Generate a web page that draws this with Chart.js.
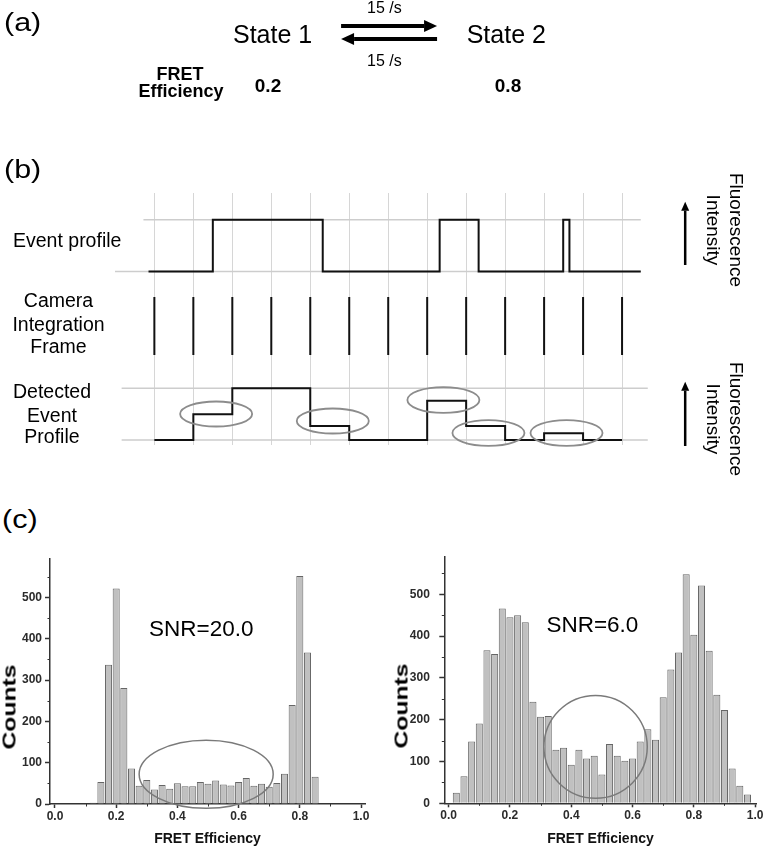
<!DOCTYPE html>
<html>
<head>
<meta charset="utf-8">
<title>Two-state FRET: camera binning and FRET histograms</title>
<script src="https://cdn.jsdelivr.net/npm/chart.js@4.4.1/dist/chart.umd.min.js"></script>
<style>
  body { margin: 0; background: #fff; }
  #page { position: relative; width: 765px; height: 850px; overflow: hidden;
          font-family: 'Liberation Sans', Arial, sans-serif; color: #000; }
  #page canvas { position: absolute; }
  .txt { position: absolute; white-space: nowrap; line-height: 1; }
  .rot { position: absolute; white-space: nowrap; text-align: center; }
</style>
</head>
<body>
<div id="page">
  <canvas id="scheme" width="765" height="110" style="left:0;top:0"></canvas>
  <canvas id="profiles" width="665" height="270" style="left:100px;top:185px"></canvas>
  <canvas id="histHigh" width="380" height="310" style="left:0;top:540px"></canvas>
  <canvas id="histLow" width="385" height="310" style="left:380px;top:540px"></canvas>
</div>
<script>
// ---- data ----

// (a) kinetic scheme: state FRET efficiencies, arrows drawn between them
const stateFret = [0.2, 0.8];
const rateArrows = [
  { from: 0.38, to: 0.623, level: 1 },   // State 1 -> State 2, 15 /s
  { from: 0.623, to: 0.38, level: 0 }    // State 2 -> State 1, 15 /s
];

// (b) time axis in camera frames
const frameTimes = [0, 1, 2, 3, 4, 5, 6, 7, 8, 9, 10, 11, 12];
const eventTimes = [-0.15, 1.5, 4.32, 7.32, 8.32, 10.49, 10.65, 12.48];
const eventLevels = [0, 1, 0, 1, 0, 1, 0, 0];
const detectedTimes = [0, 1, 2, 4, 5, 7, 8, 9, 10, 11, 12];
const detectedLevels = [0, 0.5, 1, 0.27, 0, 0.76, 0.27, 0, 0.13, 0, 0];

// (c) FRET histograms, bin centres (width 0.025)
const binsHigh = [0.125, 0.15, 0.175, 0.2, 0.225, 0.25, 0.275, 0.3, 0.325, 0.35,
  0.375, 0.4, 0.425, 0.45, 0.475, 0.5, 0.525, 0.55, 0.575, 0.6,
  0.625, 0.65, 0.675, 0.7, 0.725, 0.75, 0.775, 0.8, 0.825, 0.85];
const countsHigh = [3, 53, 337, 522, 281, 86, 44, 58, 35, 46,
  37, 50, 43, 43, 53, 49, 57, 47, 45, 53,
  63, 44, 49, 42, 51, 73, 240, 552, 367, 66];

const binsLow = [0.025, 0.05, 0.075, 0.1, 0.125, 0.15, 0.175, 0.2, 0.225, 0.25,
  0.275, 0.3, 0.325, 0.35, 0.375, 0.4, 0.425, 0.45, 0.475, 0.5,
  0.525, 0.55, 0.575, 0.6, 0.625, 0.65, 0.675, 0.7, 0.725, 0.75,
  0.775, 0.8, 0.825, 0.85, 0.875, 0.9, 0.925, 0.95, 0.975];
const countsLow = [25, 65, 148, 191, 366, 357, 466, 445, 450, 433,
  243, 207, 209, 128, 133, 92, 128, 107, 114, 69,
  142, 114, 102, 107, 148, 177, 152, 254, 320, 361,
  548, 403, 521, 365, 260, 223, 83, 42, 21];

const xTicks = [0, 0.2, 0.4, 0.6, 0.8, 1.0];
const xMinorTicks = [0.1, 0.3, 0.5, 0.7, 0.9];
const yTicks = [0, 100, 200, 300, 400, 500];
const yMinorTicks = [50, 150, 250, 350, 450, 550];

Chart.defaults.font.family = "'Liberation Sans', Arial, sans-serif";

const page = document.getElementById('page');

// ---- helpers ----

function drawArrow(ctx, x0, y0, x1, y1, w, headLen, headW) {
  const ang = Math.atan2(y1 - y0, x1 - x0);
  const bx = x1 - headLen * Math.cos(ang), by = y1 - headLen * Math.sin(ang);
  ctx.strokeStyle = '#000';
  ctx.fillStyle = '#000';
  ctx.lineWidth = w;
  ctx.beginPath();
  ctx.moveTo(x0, y0);
  ctx.lineTo(bx, by);
  ctx.stroke();
  ctx.beginPath();
  ctx.moveTo(x1, y1);
  ctx.lineTo(bx + headW / 2 * Math.sin(ang), by - headW / 2 * Math.cos(ang));
  ctx.lineTo(bx - headW / 2 * Math.sin(ang), by + headW / 2 * Math.cos(ang));
  ctx.closePath();
  ctx.fill();
}

// ellipses, arrows, text notes and minor ticks placed through the chart scales
function decor(spec) {
  return {
    id: 'decor',
    afterDatasetsDraw(chart) {
      const { ctx, chartArea, scales: { x, y } } = chart;
      ctx.save();
      (spec.ellipses || []).forEach(e => {
        const cx = x.getPixelForValue(e.x), cy = y.getPixelForValue(e.y);
        const rx = Math.abs(x.getPixelForValue(e.x + e.rx) - cx);
        const ry = Math.abs(y.getPixelForValue(e.y + e.ry) - cy);
        ctx.beginPath();
        ctx.ellipse(cx, cy, rx, ry, 0, 0, Math.PI * 2);
        ctx.lineWidth = spec.ellipseWidth || 1.5;
        ctx.strokeStyle = spec.ellipseColor || '#888';
        ctx.stroke();
      });
      (spec.arrows || []).forEach(a => {
        drawArrow(ctx, x.getPixelForValue(a.x0), y.getPixelForValue(a.y0),
          x.getPixelForValue(a.x1), y.getPixelForValue(a.y1), a.w, a.head, a.headW);
      });
      (spec.notes || []).forEach(n => {
        ctx.font = n.font;
        ctx.fillStyle = '#000';
        ctx.textAlign = 'center';
        ctx.textBaseline = 'middle';
        ctx.fillText(n.text, x.getPixelForValue(n.x), y.getPixelForValue(n.y));
      });
      if (spec.minor) {
        ctx.strokeStyle = '#333';
        ctx.lineWidth = 1;
        ctx.beginPath();
        xMinorTicks.forEach(v => {
          const px = Math.round(x.getPixelForValue(v)) + 0.5;
          ctx.moveTo(px, chartArea.bottom);
          ctx.lineTo(px, chartArea.bottom + 2.5);
        });
        yMinorTicks.forEach(v => {
          const py = Math.round(y.getPixelForValue(v)) + 0.5;
          ctx.moveTo(chartArea.left, py);
          ctx.lineTo(chartArea.left - 2.5, py);
        });
        ctx.stroke();
      }
      ctx.restore();
    }
  };
}

function addText(t, o) {
  const d = document.createElement('div');
  d.className = 'txt';
  d.textContent = t;
  d.style.fontSize = o.size + 'px';
  if (o.bold) d.style.fontWeight = 'bold';
  d.style.top = (o.base - 0.8465 * o.size) + 'px';
  if (o.center !== undefined) {
    d.style.left = (o.center - 300) + 'px';
    d.style.width = '600px';
    d.style.textAlign = 'center';
  } else {
    d.style.left = o.left + 'px';
  }
  if (o.stretch) {
    d.style.transformOrigin = '0 0';
    d.style.transform = 'scaleX(' + o.stretch + ')';
  }
  page.appendChild(d);
}

function addRotated(html, o) {
  const d = document.createElement('div');
  d.className = 'rot';
  d.innerHTML = html;
  d.style.fontSize = o.size + 'px';
  d.style.lineHeight = o.lh + 'px';
  if (o.bold) d.style.fontWeight = 'bold';
  d.style.left = o.cx + 'px';
  d.style.top = o.cy + 'px';
  d.style.transform = 'translate(-50%,-50%) rotate(' + o.angle + 'deg) scaleX(' + (o.stretch || 1) + ')';
  page.appendChild(d);
}

// ---- (a) scheme ----
new Chart(document.getElementById('scheme'), {
  type: 'scatter',
  data: { datasets: [] },
  options: {
    responsive: false,
    animation: false,
    events: [],
    layout: { padding: 0 },
    plugins: { legend: { display: false }, tooltip: { enabled: false } },
    scales: {
      x: { display: false, min: stateFret[0] - 0.6835, max: stateFret[1] + 0.6532 },
      y: { display: false, min: -5.46, max: 3 }
    }
  },
  plugins: [decor({
    arrows: rateArrows.map(r => ({ x0: r.from, y0: r.level, x1: r.to, y1: r.level, w: 4, head: 13, headW: 12 }))
  })]
});

// ---- (b) event profile / camera frames / detected profile ----
const eventOffset = 3.26;
const frameSpan = [1.644, 2.766];
const guide = (x0, x1, level) => ({
  data: [{ x: x0, y: level }, { x: x1, y: level }],
  borderColor: '#cdcdcd', borderWidth: 1.5, pointRadius: 0, order: 3
});

new Chart(document.getElementById('profiles'), {
  type: 'line',
  data: {
    datasets: [
      guide(-0.28, 12.48, eventOffset + 1),
      guide(-1.01, 12.48, eventOffset),
      guide(-0.84, 12.66, 1),
      guide(-0.84, 12.66, 0),
      ...frameTimes.map(k => ({
        data: [{ x: k, y: frameSpan[0] }, { x: k, y: frameSpan[1] }],
        borderColor: '#111', borderWidth: 2, pointRadius: 0, order: 2
      })),
      {
        data: eventTimes.map((t, i) => ({ x: t, y: eventOffset + eventLevels[i] })),
        stepped: true, borderColor: '#111', borderWidth: 2, pointRadius: 0, order: 1
      },
      {
        data: detectedTimes.map((t, i) => ({ x: t, y: detectedLevels[i] })),
        stepped: true, borderColor: '#111', borderWidth: 2, pointRadius: 0, order: 1
      }
    ]
  },
  options: {
    responsive: false,
    animation: false,
    events: [],
    layout: { padding: { left: 15, right: 65, top: 8, bottom: 10 } },
    plugins: { legend: { display: false }, tooltip: { enabled: false } },
    scales: {
      x: {
        type: 'linear', min: -1.01, max: 14.0,
        afterBuildTicks: s => { s.ticks = frameTimes.map(v => ({ value: v })); },
        ticks: { display: false },
        grid: { color: '#d6d6d6', lineWidth: 1, drawTicks: false },
        border: { display: false }
      },
      y: { display: false, min: -0.097, max: 4.778 }
    }
  },
  plugins: [decor({
    ellipseColor: '#8c8c8c',
    ellipseWidth: 1.8,
    ellipses: [
      { x: 1.585, y: 0.503, rx: 0.924, ry: 0.242 },
      { x: 4.578, y: 0.367, rx: 0.924, ry: 0.242 },
      { x: 7.416, y: 0.774, rx: 0.924, ry: 0.25 },
      { x: 8.572, y: 0.135, rx: 0.924, ry: 0.25 },
      { x: 10.575, y: 0.135, rx: 0.924, ry: 0.25 }
    ],
    arrows: [
      { x0: 13.62, y0: 3.385, x1: 13.62, y1: 4.61, w: 2.5, head: 9, headW: 8 },
      { x0: 13.62, y0: -0.116, x1: 13.62, y1: 1.128, w: 2.5, head: 9, headW: 8 }
    ]
  })]
});

// ---- (c) histograms ----
function histogram(id, bins, counts, cfg) {
  return new Chart(document.getElementById(id), {
    type: 'bar',
    data: {
      datasets: [{
        data: bins.map((b, i) => ({ x: b, y: counts[i] })),
        backgroundColor: '#c0c0c0',
        borderColor: '#666666',
        borderWidth: 1,
        barPercentage: 0.92,
        categoryPercentage: 1
      }]
    },
    options: {
      responsive: false,
      animation: false,
      events: [],
      layout: { padding: { left: 0, right: cfg.padRight, top: cfg.padTop, bottom: 0 } },
      plugins: { legend: { display: false }, tooltip: { enabled: false } },
      scales: {
        x: {
          type: 'linear', offset: false, min: cfg.xMin, max: cfg.xMax,
          afterBuildTicks: s => { s.ticks = xTicks.map(v => ({ value: v })); },
          afterFit: s => { s.height = cfg.xAxisHeight; },
          grid: { drawOnChartArea: false, offset: false, tickLength: 4, tickColor: '#333', tickWidth: 1.5 },
          border: { color: '#333', width: 1.5 },
          ticks: {
            color: '#2b2b2b', font: { size: 12, weight: 'bold' }, padding: 1.5,
            maxRotation: 0, autoSkip: false, callback: v => v.toFixed(1)
          },
          title: {
            display: true, text: 'FRET Efficiency', color: '#111',
            font: { size: 14, weight: 'bold' }, padding: { top: 0, bottom: 2 }
          }
        },
        y: {
          min: 0, max: cfg.yMax,
          afterBuildTicks: s => { s.ticks = yTicks.map(v => ({ value: v })); },
          afterFit: s => { s.width = cfg.yAxisWidth; },
          grid: { drawOnChartArea: false, tickLength: 5, tickColor: '#333', tickWidth: 1.5 },
          border: { color: '#333', width: 1.5 },
          ticks: { color: '#2b2b2b', font: { size: 12, weight: 'bold' }, padding: cfg.yPad }
        }
      }
    },
    plugins: [decor({
      minor: true,
      ellipseColor: '#7a7a7a',
      ellipseWidth: 1.5,
      ellipses: [cfg.ellipse],
      notes: [cfg.note]
    })]
  });
}

histogram('histHigh', binsHigh, countsHigh, {
  xMin: -0.0163, xMax: 1.013, yMax: 595,
  padTop: 18.3, padRight: 15, yAxisWidth: 50, xAxisHeight: 46, yPad: 3,
  ellipse: { x: 0.494, y: 72, rx: 0.219, ry: 82.5 },
  note: { text: 'SNR=20.0', x: 0.478, y: 421, font: "22.5px 'Liberation Sans', Arial, sans-serif" }
});

histogram('histLow', binsLow, countsLow, {
  xMin: -0.0142, xMax: 1.0049, yMax: 590,
  padTop: 16, padRight: 5, yAxisWidth: 64.3, xAxisHeight: 46.7, yPad: 9.5,
  ellipse: { x: 0.4795, y: 135, rx: 0.1685, ry: 123 },
  note: { text: 'SNR=6.0', x: 0.469, y: 425.5, font: "22.5px 'Liberation Sans', Arial, sans-serif" }
});

// ---- text ----
addText('(a)', { left: 4, base: 30.8, size: 25, stretch: 1.22 });
addText('(b)', { left: 4, base: 178, size: 25, stretch: 1.22 });
addText('(c)', { left: 2, base: 528, size: 25, stretch: 1.22 });

addText('State 1', { left: 233, base: 43, size: 25 });
addText('State 2', { left: 466.7, base: 43, size: 25 });
addText('15 /s', { center: 384.4, base: 13.3, size: 16 });
addText('15 /s', { center: 384.4, base: 66.7, size: 16 });
addText('FRET', { center: 180, base: 80, size: 18, bold: true });
addText('Efficiency', { center: 181, base: 97, size: 18, bold: true });
addText('0.2', { center: 268, base: 91.7, size: 19, bold: true });
addText('0.8', { center: 508, base: 91.7, size: 19, bold: true });

addText('Event profile', { left: 13, base: 248, size: 19.5 });
addText('Camera', { center: 58.5, base: 308, size: 19.5 });
addText('Integration', { center: 58.5, base: 331.3, size: 19.5 });
addText('Frame', { center: 58.5, base: 354, size: 19.5 });
addText('Detected', { center: 52, base: 399, size: 19.5 });
addText('Event', { center: 52, base: 422.3, size: 19.5 });
addText('Profile', { center: 52, base: 444, size: 19.5 });

addRotated('Fluorescence<br>Intensity', { cx: 725, cy: 230, size: 19, lh: 23, angle: 90 });
addRotated('Fluorescence<br>Intensity', { cx: 725, cy: 419, size: 19, lh: 23, angle: 90 });

addRotated('Counts', { cx: 8.5, cy: 706.7, size: 19, lh: 19, angle: -90, bold: true, stretch: 1.3 });
addRotated('Counts', { cx: 401, cy: 705.8, size: 19, lh: 19, angle: -90, bold: true, stretch: 1.3 });
</script>
</body>
</html>
